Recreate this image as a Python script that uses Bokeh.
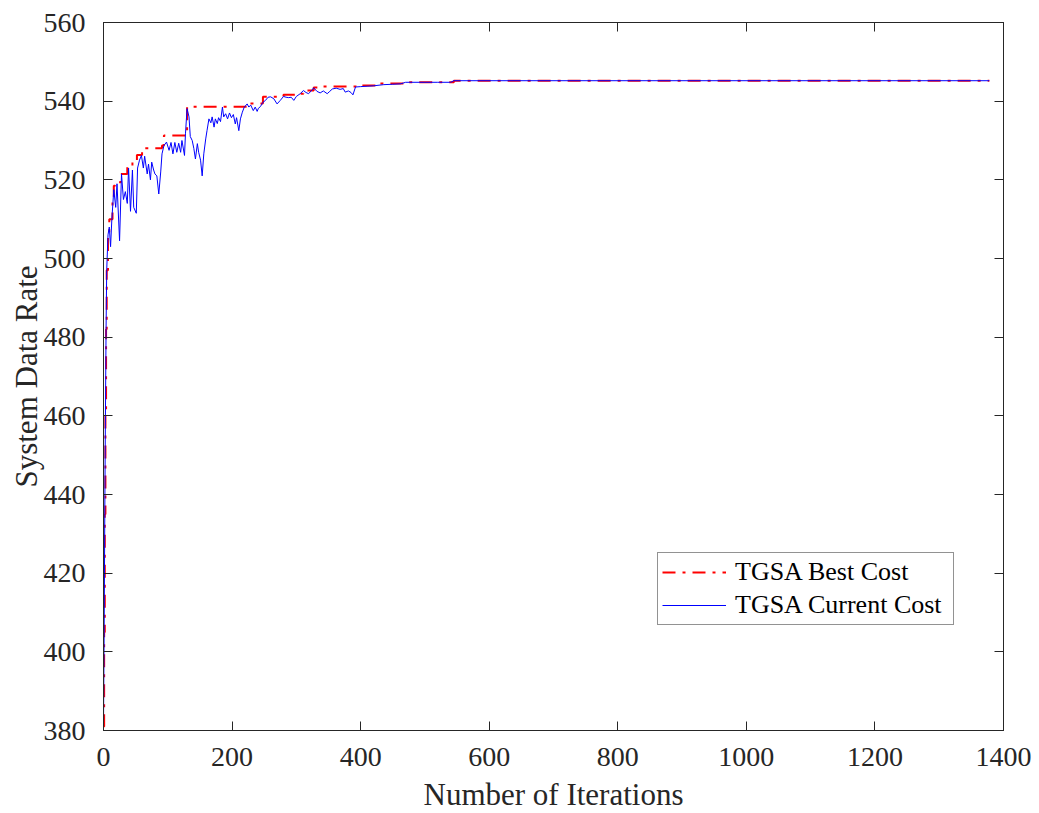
from bokeh.plotting import figure
from bokeh.models import Range1d, LinearAxis, FixedTicker, Legend, LegendItem, CustomLabelingPolicy
from bokeh.embed import file_html
from bokeh.resources import INLINE

# TGSA current cost (iteration, value)
iter_current = [0, 1, 2, 3, 4, 5, 7, 9, 11, 13, 16, 19, 21, 25, 28, 31, 34, 37, 39, 42,
                45, 47, 51, 53, 56, 59, 62, 64, 68, 70, 73, 75, 78, 80, 83, 86, 89, 91, 94, 98,
                102, 105, 108, 111, 114, 117, 120, 122, 126, 127.5, 130, 133, 135, 138, 140.5, 143, 146, 148, 151, 153.5,
                156, 159, 161, 164, 167, 169, 172, 174, 177, 179, 182, 185, 187, 190, 193, 196, 199, 202, 205, 207,
                210.5, 213, 216, 219, 223.5, 226, 229, 233, 236, 239, 241, 244, 248, 252, 256, 260, 265, 270, 275, 280,
                284, 288, 292, 296, 300, 306, 311, 315, 319, 323, 327, 332, 337, 342, 348, 352, 356, 362, 368, 373,
                376, 381, 385, 388, 392, 400, 410, 420, 436, 450, 462, 470, 500, 520, 540, 545, 1378]
cost_current = [381, 405, 435, 460, 482, 497, 506, 508, 503, 510, 517.5, 513, 519, 504.5, 521.5, 515, 517, 514, 523, 512,
                522.5, 513, 511.5, 523, 525, 526.2, 523, 526, 521.5, 524, 520, 524.5, 522.5, 521.5, 521, 516.4, 522, 526.6, 528.7, 529.6,
                527.5, 529.5, 526.6, 529.5, 527, 529.3, 527, 530, 526.2, 531.7, 538.1, 536, 531, 530, 528, 525.3, 529.2, 527, 525, 521,
                526.6, 530.4, 532.5, 535.5, 534.5, 536, 533.4, 535.5, 534.3, 535.8, 534.8, 538.5, 536, 536.8, 535.5, 537, 535.8, 536.6, 534.2, 535.8,
                532.5, 535.5, 537.2, 538.5, 539.3, 538.5, 539, 537.6, 538.5, 537.4, 538.2, 538.6, 539.7, 540.2, 541, 541.1, 540.6, 539.3, 540.2, 541.2,
                541, 540.9, 541, 540.2, 541.2, 541.9, 542.7, 542.2, 541.9, 542.6, 543.4, 542.5, 542.1, 542.6, 541.9, 542.5, 543.1, 543.3, 543.0, 543.2,
                542.3, 542.6, 542.2, 541.6, 543.6, 543.7, 543.8, 543.9, 544.2, 544.3, 544.4, 544.8, 544.8, 544.8, 544.8, 545.2, 545.2]

# TGSA best cost: step start iteration and value
iter_best = [0, 1, 2, 3, 4, 5, 7, 9, 14, 16, 18, 27, 37, 45, 52, 60, 91, 94, 130, 223,
             248, 280, 300, 311, 327, 335, 392, 426, 470, 545, 1378]
cost_best = [381, 405, 435, 460, 482, 497, 506, 510, 514.7, 518.5, 519.4, 521.5, 523.5, 525, 526.3, 528, 528.7, 531.3, 538.6, 539.4,
             541.1, 541.6, 541.9, 542.7, 543.5, 543.7, 544, 544.5, 544.8, 545.2, 545.2]

x_ticks = [0, 200, 400, 600, 800, 1000, 1200, 1400]
y_ticks = [380, 400, 420, 440, 460, 480, 500, 520, 540, 560]

FONT = "Liberation Serif"
AX = "#262626"

p = figure(frame_width=900, frame_height=708, output_backend="svg", toolbar_location=None,
           x_range=Range1d(0, 1400), y_range=Range1d(380, 560),
           min_border_left=103, min_border_top=22, min_border_right=36, min_border_bottom=83,
           background_fill_color="white", border_fill_color="white")
p.grid.visible = False
p.outline_line_color = AX
p.outline_line_width = 1

for ax in (p.xaxis[0], p.yaxis[0]):
    ax.major_tick_in = 9
    ax.major_tick_out = 0
    ax.minor_tick_in = 0
    ax.minor_tick_out = 0
    ax.axis_line_color = AX
    ax.major_tick_line_color = AX
    ax.major_label_text_font = FONT
    ax.major_label_text_font_size = "28px"
    ax.major_label_text_color = AX
    ax.axis_label_text_font = FONT
    ax.axis_label_text_font_size = "31px"
    ax.axis_label_text_font_style = "normal"
    ax.axis_label_text_color = AX

p.xaxis[0].ticker = FixedTicker(ticks=x_ticks)
p.yaxis[0].ticker = FixedTicker(ticks=y_ticks)
p.xaxis[0].axis_label = "Number of Iterations"
p.yaxis[0].axis_label = "System Data Rate"
p.xaxis[0].major_label_standoff = 17
p.yaxis[0].major_label_standoff = 18
p.xaxis[0].axis_label_standoff = 8
p.yaxis[0].axis_label_standoff = -3

no_labels = CustomLabelingPolicy(code="for (const i of indices) { indices.unset(i) }")
for side, ticks in (("above", x_ticks), ("right", y_ticks)):
    a = LinearAxis(ticker=FixedTicker(ticks=ticks), major_tick_in=9, major_tick_out=0,
                   minor_tick_in=0, minor_tick_out=0, axis_line_color=AX,
                   major_tick_line_color=AX, major_label_text_font_size="1px",
                   major_label_standoff=0, major_label_policy=no_labels)
    p.add_layout(a, side)

r_best = p.step(iter_best, cost_best, mode="after", line_color="#FF0000", line_width=2,
                line_dash="13 7 3 7")
r_cur = p.line(iter_current, cost_current, line_color="#0000FF", line_width=1)

legend = Legend(items=[LegendItem(label="TGSA Best Cost", renderers=[r_best]),
                       LegendItem(label="TGSA Current Cost", renderers=[r_cur])],
                location=(554, 105), margin=0, padding=4, spacing=3,
                glyph_width=64, glyph_height=30, label_height=30, label_standoff=9,
                label_width=214,
                label_text_font=FONT, label_text_font_size="26px", label_text_color="black",
                border_line_color=AX, border_line_width=1, background_fill_color="white",
                background_fill_alpha=1)
p.add_layout(legend)

open("out.html", "w").write(file_html(p, INLINE))
